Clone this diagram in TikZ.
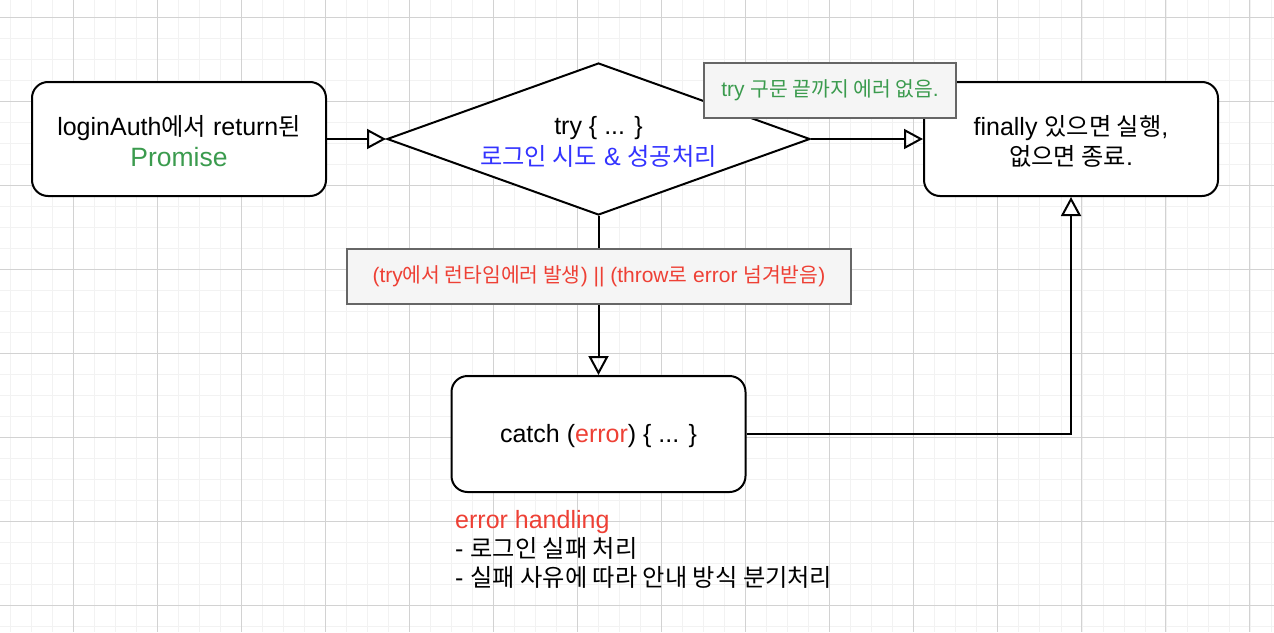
\documentclass[tikz,border=0pt]{standalone}
\usepackage{fontspec}
\setmainfont{Liberation Sans}
\newfontfamily\krf[Scale=0.97]{Noto Sans CJK KR}
\newcommand\ko[1]{{\krf #1}}
\usetikzlibrary{shapes.geometric,arrows.meta}
\definecolor{kgreen}{HTML}{3B9B4E}
\definecolor{kblue}{HTML}{3333FF}
\definecolor{kred}{HTML}{EE4035}
\definecolor{labfill}{HTML}{F5F5F5}
\definecolor{labline}{HTML}{666666}
\definecolor{gminor}{HTML}{F2F2F2}
\definecolor{gmajor}{HTML}{D2D2D2}
\tikzset{
  mainfont/.style={font=\fontsize{25}{30}\selectfont},
  boxnode/.style={draw=black, line width=2pt, fill=white, rounded corners=16pt,
    minimum width=294pt, minimum height=114pt, inner sep=0pt},
  dianode/.style={draw=black, line width=2pt, fill=white, shape=diamond,
    minimum width=423pt, minimum height=152pt, inner sep=0pt},
  textnode/.style={align=center, inner sep=0pt, mainfont, yshift=-2.5pt},
  labnode/.style={draw=labline, line width=2pt, fill=labfill, minimum height=55pt,
    inner sep=0pt, font=\fontsize{21}{25}\selectfont},
  conn/.style={line width=2pt, -{Triangle[open, length=19pt, width=20pt, line width=2pt]}},
  gridminor/.style={gminor, line width=1pt},
  gridmajor/.style={gmajor, line width=1pt}
}
\begin{document}
\begin{tikzpicture}[x=1pt, y=-1pt]
\useasboundingbox (0,0) rectangle (1274,632);
\fill[white] (0,0) rectangle (1274,632);
% grid
\foreach \i in {0,...,60} {\draw[gridminor] ({10+21.02*\i},0) -- ({10+21.02*\i},632);}
\foreach \j in {0,...,29} {\draw[gridminor] (0,{17+21.02*\j}) -- (1274,{17+21.02*\j});}
\foreach \i in {0,...,14} {\draw[gridmajor] ({73+84.07*\i},0) -- ({73+84.07*\i},632);}
\foreach \j in {0,...,7} {\draw[gridmajor] (0,{17+84.07*\j}) -- (1274,{17+84.07*\j});}
% shapes
\node[boxnode] (login) at (179,139) {};
\node[textnode] (login-t) at (login.center) {loginAuth\ko{에서} return\ko{된}\\[1pt]{\fontsize{26.5}{30}\selectfont\color{kgreen}Promise}};
\node[dianode] (try) at (598.5,139) {};
\node[textnode] (try-t) at (try.center) {try \{ ... \}\\[1pt]\color{kblue}\ko{로그인 시도} \& \ko{성공처리}};
\node[boxnode] (fin) at (1071,139) {};
\node[textnode] (fin-t) at (fin.center) {finally \ko{있으면 실행},\\\ko{없으면 종료}.};
\node[boxnode, minimum height=116pt] (catch) at (598.5,434) {};
\node[textnode] (catch-t) at (catch.center) {catch ({\color{kred}error}) \{ ... \}};
% connectors
\draw[conn] (login.east) -- (try.west);
\draw[conn] (try.east) -- (fin.west);
\draw[conn] (try.south) -- (catch.north);
\draw[conn] (catch.east) -| (fin.south);
% labels
\node[labnode, minimum width=252pt, text=kgreen] (lg) at (830,90.5) {try \ko{구문 끝까지 에러 없음}.};
\node[labnode, minimum width=504pt, text=kred] (lr) at (599,276.5) {(try\ko{에서 런타임에러 발생}) || (throw\ko{로} error \ko{넘겨받음})};
% note
\node[anchor=north west, align=left, inner sep=0pt, font=\fontsize{25}{29}\selectfont] (note) at (455,510)
  {{\color{kred}error handling}\\- \ko{로그인 실패 처리}\\- \ko{실패 사유에 따라 안내 방식 분기처리}};
\end{tikzpicture}
\end{document}
